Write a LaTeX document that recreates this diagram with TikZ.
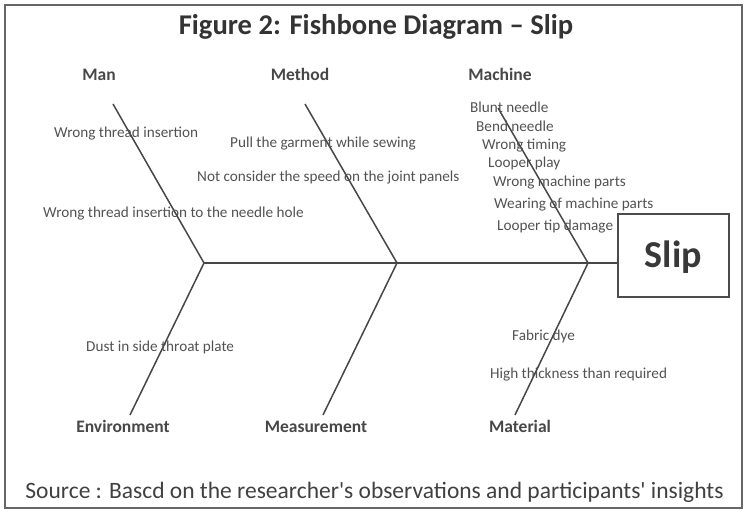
\documentclass[tikz,border=0pt]{standalone}
\usepackage{fontspec}
\setmainfont{Carlito}
% same family without the TeX quote mapping, so ' stays straight
\newfontfamily\srcfont{Carlito}
\begin{document}
\begin{tikzpicture}[x=1pt,y=1pt,
  frameline/.style={draw=black!60, line width=1.4pt},
  bone/.style={draw=black!72, line width=1.5pt},
  cause/.style={anchor=base west, inner sep=0pt, text=black!68,
    font=\fontsize{15.2}{16}\selectfont},
  cat/.style={anchor=base, inner sep=0pt, text=black!72,
    font=\fontsize{17.5}{18}\selectfont\bfseries},
  headbox/.style={draw=black!70, line width=1.2pt, minimum width=111pt,
    minimum height=83pt, inner sep=0pt},
]
\useasboundingbox (0,-513) rectangle (747,0);

% outer frame
\draw[frameline] (5,-508) rectangle (742,-5);

% title
\node[anchor=base, inner sep=0pt, text=black!80,
  font=\fontsize{28.6}{30}\selectfont\bfseries] (title) at (376,-35)
  {Figure 2: Fishbone Diagram – Slip};

% head of the fish
\node[headbox] (head) at (673.5,-255.5) {};
\node[anchor=base, inner sep=0pt, text=black!78,
  font=\fontsize{38}{40}\selectfont\bfseries] (slip) at (673.5,-268) {Slip};

% joints on the spine and the free ends of the bones
\coordinate (j1) at (204,-263);
\coordinate (j2) at (397,-263);
\coordinate (j3) at (588,-263);
\coordinate (manEnd) at (113,-104);
\coordinate (methodEnd) at (305,-104);
\coordinate (machineEnd) at (498,-108);
\coordinate (envEnd) at (130,-415);
\coordinate (measEnd) at (323,-415);
\coordinate (matEnd) at (515,-415);

% spine and bones
\draw[bone] (j1) -- (head.west |- j1);
\draw[bone] (manEnd) -- (j1) -- (envEnd);
\draw[bone] (methodEnd) -- (j2) -- (measEnd);
\draw[bone] (machineEnd) -- (j3) -- (matEnd);

% category labels
\node[cat] (man) at (99,-81) {Man};
\node[cat] (method) at (300,-81) {Method};
\node[cat] (machine) at (500,-81) {Machine};
\node[cat] (environment) at (123,-432) {Environment};
\node[cat] (measurement) at (316,-432) {Measurement};
\node[cat] (material) at (520,-432) {Material};

% causes: man
\node[cause] (c1) at (54,-138) {Wrong thread insertion};
\node[cause] (c2) at (43,-218) {Wrong thread insertion to the needle hole};
% causes: method
\node[cause] (c3) at (230,-148) {Pull the garment while sewing};
\node[cause] (c4) at (197,-182) {Not consider the speed on the joint panels};
% causes: machine
\node[cause] (c5) at (470,-113) {Blunt needle};
\node[cause] (c6) at (476,-132) {Bend needle};
\node[cause] (c7) at (482,-150) {Wrong timing};
\node[cause] (c8) at (488,-168) {Looper play};
\node[cause] (c9) at (493,-187) {Wrong machine parts};
\node[cause] (c10) at (494,-209) {Wearing of machine parts};
\node[cause] (c11) at (497,-230) {Looper tip damage};
% causes: environment
\node[cause] (c12) at (86,-351) {Dust in side throat plate};
% causes: material
\node[cause] (c13) at (512,-340) {Fabric dye};
\node[cause] (c14) at (490,-378) {High thickness than required};

% source line
\node[anchor=base, inner sep=0pt, text=black!75,
  font=\srcfont\fontsize{23.5}{25}\selectfont] (source) at (374.5,-498)
  {Source : Bascd on the researcher's observations and participants' insights};
\end{tikzpicture}
\end{document}
